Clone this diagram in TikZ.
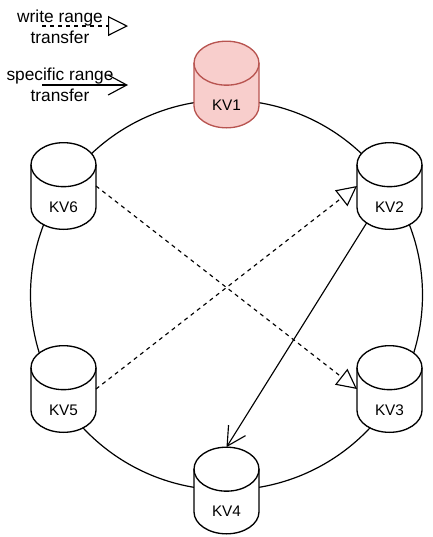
\documentclass[tikz,border=0pt]{standalone}
\usepackage{fontspec}
\usetikzlibrary{calc,arrows.meta}
\setmainfont{Liberation Sans}
\definecolor{kvfill}{HTML}{F8CECC}
\definecolor{kvline}{HTML}{B85450}
\tikzset{
  every picture/.style={x=0.75pt,y=-0.75pt},
  kvbox/.style={minimum width=48.75pt,minimum height=65pt,inner sep=0pt,outer sep=0pt},
  kvtext/.style={font=\fontsize{11.5pt}{13pt}\selectfont,anchor=center},
  legendtext/.style={font=\fontsize{13pt}{15.5pt}\selectfont,align=center,inner sep=0pt},
  ring/.style={draw=black,line width=0.9pt},
  dashlink/.style={draw=black,line width=0.85pt,dash pattern=on 3pt off 3pt,-{Triangle[open,length=15pt,width=15pt,line width=0.85pt,fill=white,sep=0pt]}},
  solidlink/.style={draw=black,line width=0.85pt,-{Straight Barb[length=14pt,width=15pt,line width=0.85pt]}},
}
\newcommand{\kvnode}[6]{%
  \node[kvbox] (#1) at (#2,#3) {};
  \draw[draw=#6,fill=#5,line width=1pt]
    ($(#1.north west)+(0,22)$) arc[start angle=180,end angle=360,x radius=32.5,y radius=22]
    -- ($(#1.south east)+(0,-22)$) arc[start angle=0,end angle=180,x radius=32.5,y radius=22]
    -- cycle;
  \draw[draw=#6,line width=1pt]
    ($(#1.north west)+(0,22)$) arc[start angle=180,end angle=0,x radius=32.5,y radius=22];
  \node[kvtext] (#1t) at ($(#1.center)+(0,21)$) {#4};
}
\begin{document}
\begin{tikzpicture}
\useasboundingbox (0,0) rectangle (433,537);
\coordinate (ringc) at (226.5,295);
\draw[ring] (ringc) ellipse[x radius=196,y radius=195];
\kvnode{kv1}{226.5}{84.5}{KV1}{kvfill}{kvline}
\kvnode{kv2}{389.5}{186}{KV2}{white}{black}
\kvnode{kv3}{389.5}{389}{KV3}{white}{black}
\kvnode{kv4}{226.5}{490.5}{KV4}{white}{black}
\kvnode{kv5}{63.5}{389}{KV5}{white}{black}
\kvnode{kv6}{63.5}{186}{KV6}{white}{black}
\draw[dashlink] (kv6.east) -- (kv3.west);
\draw[dashlink] (kv5.east) -- (kv2.west);
\draw[solidlink] ($(kv2.south west)+(10,-7)$) -- (kv4.north);
\node[legendtext] (lg1) at (60,27) {write range\\transfer};
\node[legendtext] (lg2) at (60,85) {specific range\\transfer};
\coordinate (a1) at (42,26); \coordinate (b1) at (128,26);
\coordinate (a2) at (42,85); \coordinate (b2) at (128,85);
\draw[dashlink] (a1) -- (b1);
\draw[solidlink] (a2) -- (b2);
\end{tikzpicture}
\end{document}
